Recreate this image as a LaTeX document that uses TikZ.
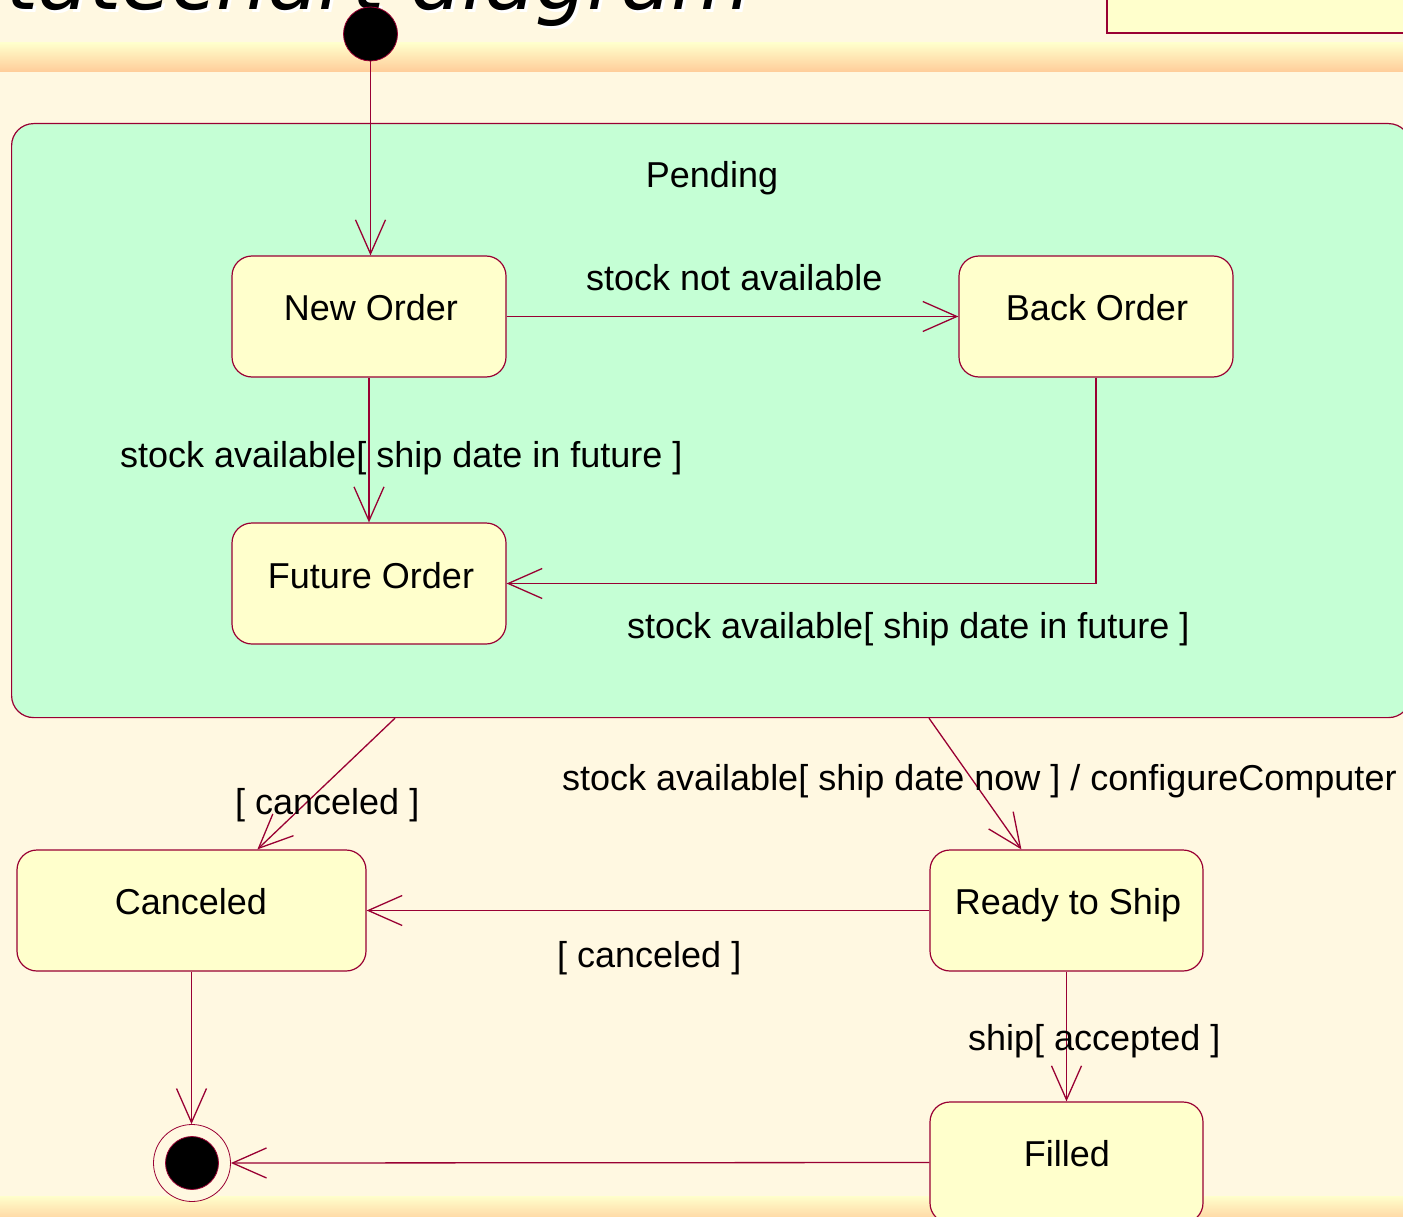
\documentclass[tikz,border=0pt]{standalone}
\usepackage{fontspec}
\setmainfont{Liberation Sans}
\newfontfamily\headfont{DejaVu Sans}
\usetikzlibrary{arrows.meta,calc}

\definecolor{paper}{RGB}{255,248,225}
\definecolor{bandtop}{RGB}{255,255,204}
\definecolor{bandbot}{RGB}{255,204,153}
\definecolor{statefill}{RGB}{255,255,204}
\definecolor{pendfill}{RGB}{197,255,213}
\definecolor{umlline}{RGB}{153,0,51}

\tikzset{
  statebox/.style={draw=umlline, fill=statefill, line width=1.2pt,
    rounded corners=20pt, inner sep=0pt, minimum height=121pt},
  compbox/.style={draw=umlline, fill=pendfill, line width=1.2pt,
    rounded corners=22pt, inner sep=0pt, anchor=north west},
  sname/.style={anchor=base, inner sep=0pt, font=\fontsize{36}{40}\selectfont},
  tlabel/.style={anchor=base west, inner sep=0pt, font=\fontsize{36}{40}\selectfont},
  tr/.style={draw=umlline, line width=1.3pt,
    -{Straight Barb[length=34pt,width=30pt]}},
}

\begin{document}
\begin{tikzpicture}[x=1pt,y=-1pt]
\useasboundingbox (0,0) rectangle (1403,1217);
\clip (0,0) rectangle (1403,1217);

% page background and header / footer bands
\fill[paper] (0,0) rectangle (1403,1217);
\shade[top color=bandtop, bottom color=bandbot] (0,43) rectangle (1403,72);
\shade[top color=bandtop, bottom color=bandbot] (0,1196) rectangle (1403,1225);

% title with white drop shadow
\node[anchor=base east, inner sep=0pt, text=white,
      font=\headfont\itshape\fontsize{82}{90}\selectfont] (titleshadow) at (755,13) {tatechart diagram};
\node[anchor=base east, inner sep=0pt, text=black,
      font=\headfont\itshape\fontsize{82}{90}\selectfont] (title) at (752,10) {tatechart diagram};

% note box in the upper right corner
\draw[umlline, line width=1.2pt, fill=statefill] (1107,-10) rectangle (1420,33);

% composite state
\node[compbox, minimum width=1399pt, minimum height=594pt] (pend) at (11,123) {};
\node[sname] (pendT) at (712,188) {Pending};

% initial and final pseudo states
\node[circle, fill=black, draw=umlline, line width=0.8pt, minimum size=54pt, inner sep=0pt] (init) at (370.5,34) {};
\node[circle, fill=paper, draw=umlline, line width=0.8pt, minimum size=77pt, inner sep=0pt] (final) at (192,1163) {};
\node[circle, fill=black, draw=umlline, line width=0.8pt, minimum size=53pt, inner sep=0pt] (finalin) at (192,1163) {};

% simple states
\node[statebox, minimum width=274pt] (neworder) at (369,316.5) {};
\node[sname] (neworderT) at (371,320) {New Order};
\node[statebox, minimum width=274pt] (backorder) at (1096,316.5) {};
\node[sname] (backorderT) at (1097,320) {Back Order};
\node[statebox, minimum width=274pt] (futureorder) at (369,583.5) {};
\node[sname] (futureorderT) at (371,588) {Future Order};
\node[statebox, minimum width=349pt] (cancel) at (191.5,910.5) {};
\node[sname] (cancelT) at (191,914) {Canceled};
\node[statebox, minimum width=273pt] (ready) at (1066.5,910.5) {};
\node[sname] (readyT) at (1068,914) {Ready to Ship};
\node[statebox, minimum width=273pt] (filled) at (1066.5,1162.5) {};
\node[sname] (filledT) at (1067,1166) {Filled};

% transitions
\draw[tr] (init) -- (init |- neworder.north);
\draw[tr] (neworder.east) -- (backorder.west);
\draw[tr] (neworder.south) -- (futureorder.north);
\draw[tr] (backorder.south) |- (futureorder.east);
\draw[tr] ([xshift=384pt]pend.south west) -- ([xshift=241pt]cancel.north west);
\draw[tr] ([xshift=918pt]pend.south west) -- ([xshift=92pt]ready.north west);
\draw[tr] (ready.west) -- (cancel.east);
\draw[tr] (ready.south) -- (filled.north);
\draw[tr] (cancel.south) -- (cancel.south |- final.north);
\draw[tr] (filled.west) -- (final.east);

% transition labels
\node[tlabel] (l1) at (586,290) {stock not available};
\node[tlabel] (l2) at (120,467) {stock available[ ship date in future ]};
\node[tlabel] (l3) at (627,638) {stock available[ ship date in future ]};
\node[tlabel] (l4) at (235,814) {[ canceled ]};
\node[tlabel] (l5) at (562,790) {stock available[ ship date now ] / configureComputer};
\node[tlabel] (l6) at (557,967) {[ canceled ]};
\node[tlabel] (l7) at (968,1050) {ship[ accepted ]};
\end{tikzpicture}
\end{document}
